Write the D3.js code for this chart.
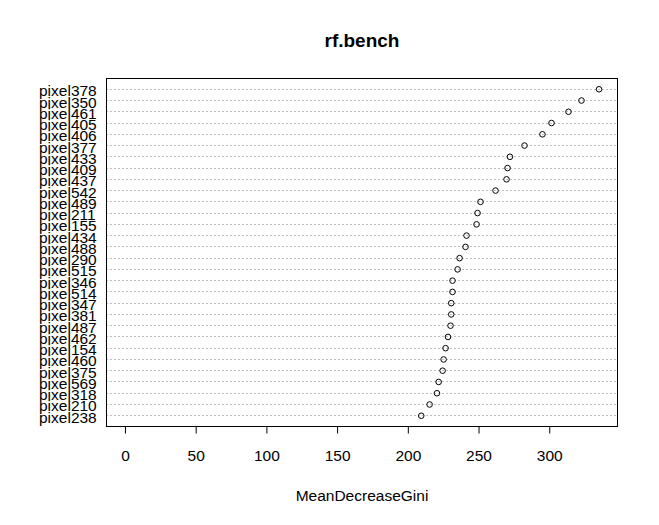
<!DOCTYPE html>
<html>
<head>
<meta charset="utf-8">
<script src="https://cdn.jsdelivr.net/npm/d3@7"></script>
<style>
  html, body { margin: 0; padding: 0; background: #fff; }
  svg { display: block; font-family: "Liberation Sans", Arial, sans-serif; }
</style>
</head>
<body>
<svg id="chart" width="659" height="525"></svg>
<script>
// Variables, top to bottom as drawn
const labels = ["pixel378","pixel350","pixel461","pixel405","pixel406","pixel377","pixel433","pixel409","pixel437","pixel542",
                "pixel489","pixel211","pixel155","pixel434","pixel488","pixel290","pixel515","pixel346","pixel514","pixel347",
                "pixel381","pixel487","pixel462","pixel154","pixel460","pixel375","pixel569","pixel318","pixel210","pixel238"];
const values = [335.2, 322.8, 313.6, 301.6, 295.2, 282.5, 272.2, 270.5, 269.8, 262.0,
                251.4, 249.3, 248.6, 241.5, 240.8, 236.6, 235.2, 231.6, 231.6, 230.7,
                230.7, 230.2, 228.4, 226.7, 225.3, 224.6, 221.8, 220.6, 215.4, 209.5];
const xTicks = [0, 50, 100, 150, 200, 250, 300];
const title = "rf.bench";
const xLabel = "MeanDecreaseGini";

const svg = d3.select("#chart");
const box = { left: 106, right: 618, top: 78, bottom: 427 };
const n = labels.length;

// R-style 4% range extension on [0, max]
const xmax = d3.max(values);
const pad = 0.04 * xmax;
const x = d3.scaleLinear().domain([0 - pad, xmax + pad]).range([box.left, box.right]);
// rows: top item at n, bottom at 1, ylim = [0, n+1]
const y = d3.scaleLinear().domain([0, n + 1]).range([box.bottom, box.top]);
const rowPos = i => y(n - i);

// gridlines
svg.append("g").selectAll("line").data(labels).join("line")
  .attr("x1", box.left).attr("x2", box.right)
  .attr("y1", (d, i) => rowPos(i)).attr("y2", (d, i) => rowPos(i))
  .attr("stroke", "#bebebe").attr("stroke-width", 1)
  .attr("stroke-dasharray", "2,2")
  .attr("shape-rendering", "crispEdges");

// points
svg.append("g").selectAll("circle").data(values).join("circle")
  .attr("cx", d => x(d)).attr("cy", (d, i) => rowPos(i))
  .attr("r", 2.8).attr("fill", "none").attr("stroke", "#000").attr("stroke-width", 1);

// box
svg.append("rect")
  .attr("x", box.left + 0.5).attr("y", box.top + 0.5)
  .attr("width", box.right - box.left - 1).attr("height", box.bottom - box.top - 1)
  .attr("fill", "none").attr("stroke", "#000").attr("stroke-width", 1);

// labels
svg.append("g").selectAll("text").data(labels).join("text")
  .attr("x", 39).attr("y", (d, i) => rowPos(i) + 7)
  .attr("font-size", "15.5px").attr("fill", "#000")
  .text(d => d);

// x axis
const axis = d3.axisBottom(x).tickValues(xTicks).tickSize(7).tickPadding(16).tickFormat(d3.format("d"));
const gx = svg.append("g").attr("transform", `translate(0,${box.bottom - 0.5})`).call(axis);
gx.select(".domain").remove();
gx.selectAll(".tick line").attr("stroke", "#000");
gx.selectAll(".tick text").attr("font-size", "15.5px").attr("fill", "#000")
  .attr("font-family", "\"Liberation Sans\", Arial, sans-serif");
gx.append("line").attr("x1", x(xTicks[0])).attr("x2", x(xTicks[xTicks.length - 1]))
  .attr("y1", 0).attr("y2", 0).attr("stroke", "#000");

// title
svg.append("text").attr("x", (box.left + box.right) / 2).attr("y", 47)
  .attr("text-anchor", "middle").attr("font-size", "19px").attr("font-weight", "bold")
  .attr("fill", "#000").text(title);

// x label
svg.append("text").attr("x", (box.left + box.right) / 2).attr("y", 501)
  .attr("text-anchor", "middle").attr("font-size", "15.5px")
  .attr("fill", "#000").text(xLabel);
</script>
</body>
</html>
